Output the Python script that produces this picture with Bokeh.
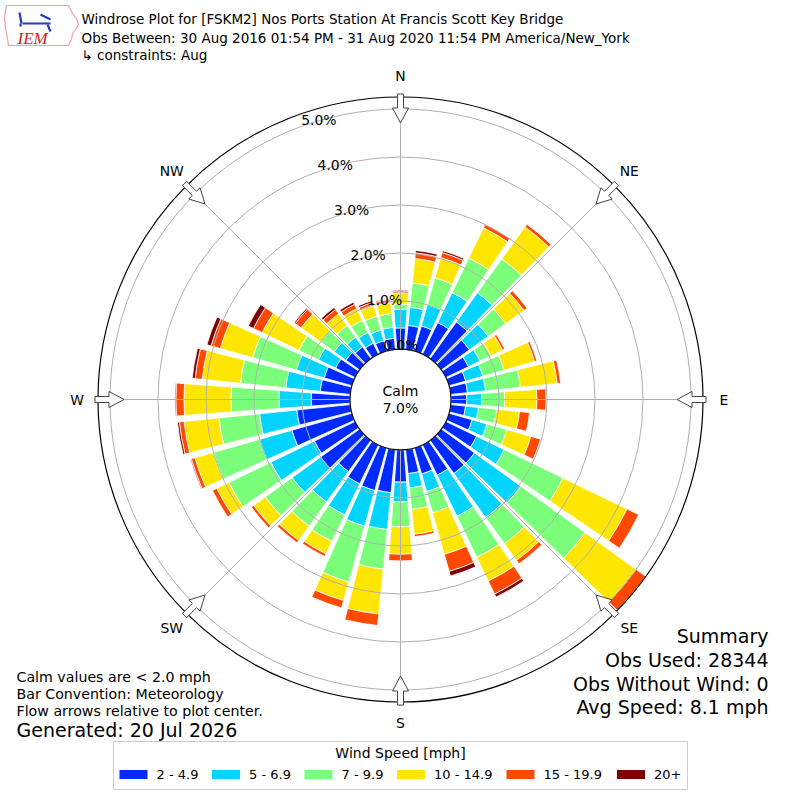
import numpy as np
from bokeh.plotting import figure
from bokeh.models import Range1d, ColumnDataSource
from bokeh.embed import file_html
from bokeh.resources import INLINE
from bokeh.core.properties import value

# ---------------- data ----------------
directions = list(range(0, 360, 10))
bin_labels = ["2 - 4.9", "5 - 6.9", "7 - 9.9", "10 - 14.9", "15 - 19.9", "20+"]
bin_colors = ["#002bff", "#00d4ff", "#7bff7b", "#ffe600", "#ff4900", "#7f0000"]

# percent of observations per direction for each speed bin
spd_2_5 = [0.44, 0.50, 0.54, 0.73, 0.94, 0.72, 0.52, 0.36, 0.35, 0.33, 0.31, 0.50,
           0.71, 0.85, 0.85, 0.70, 0.56, 0.50, 0.67, 0.90, 0.92, 0.90, 0.80, 1.00,
           0.94, 1.30, 1.12, 0.81, 0.63, 0.60, 0.45, 0.35, 0.30, 0.25, 0.22, 0.23]
spd_5_7 = [0.39, 0.38, 0.46, 0.69, 0.75, 0.48, 0.27, 0.37, 0.38, 0.31, 0.27, 0.32,
           0.64, 1.19, 1.13, 0.95, 0.38, 0.30, 0.41, 0.77, 0.77, 0.72, 0.78, 0.73,
           1.01, 0.70, 0.78, 0.67, 0.72, 0.60, 0.40, 0.30, 0.25, 0.25, 0.23, 0.23]
spd_7_10 = [0.11, 0.51, 0.58, 0.80, 0.87, 0.45, 0.25, 0.46, 0.73, 0.48, 0.38, 0.43,
            1.36, 1.65, 0.67, 0.95, 0.46, 0.45, 0.52, 0.83, 1.21, 0.61, 0.62, 0.69,
            0.97, 1.00, 0.85, 1.00, 0.95, 0.95, 0.45, 0.35, 0.30, 0.28, 0.30, 0.29]
spd_10_15 = [0.23, 0.51, 0.44, 0.70, 0.82, 0.47, 0.27, 0.66, 0.77, 0.67, 0.48, 0.52,
             1.48, 1.31, 0.43, 0.55, 0.90, 0.52, 0.57, 0.94, 0.40, 0.29, 0.37, 0.30,
             0.28, 0.40, 0.73, 0.98, 0.80, 0.70, 0.85, 0.50, 0.30, 0.27, 0.23, 0.23]
spd_15_20 = [0.04, 0.12, 0.11, 0.08, 0.07, 0.08, 0.05, 0.05, 0.07, 0.19, 0.21, 0.21,
             0.27, 0.25, 0.09, 0.30, 0.37, 0.05, 0.14, 0.24, 0.16, 0.06, 0.06, 0.06,
             0.10, 0.08, 0.10, 0.17, 0.15, 0.20, 0.20, 0.15, 0.11, 0.10, 0.07, 0.06]
spd_20_up = [0.02, 0.05, 0.04, 0.00, 0.00, 0.00, 0.00, 0.00, 0.00, 0.00, 0.00, 0.00,
             0.00, 0.00, 0.00, 0.07, 0.10, 0.00, 0.00, 0.00, 0.00, 0.00, 0.00, 0.00,
             0.00, 0.02, 0.04, 0.02, 0.06, 0.09, 0.12, 0.03, 0.05, 0.05, 0.04, 0.02]

calm_pct = 7.0
ring_ticks = [0, 1, 2, 3, 4, 5]
ring_labels = ["0.0%", "1.0%", "2.0%", "3.0%", "4.0%", "5.0%"]
compass_names = ["N", "NE", "E", "SE", "S", "SW", "W", "NW"]
compass_deg = [0, 45, 90, 135, 180, 225, 270, 315]

title_lines = ["Windrose Plot for [FSKM2] Nos Ports Station At Francis Scott Key Bridge",
               "Obs Between: 30 Aug 2016 01:54 PM - 31 Aug 2020 11:54 PM America/New_York",
               "\u21b3 constraints: Aug"]
notes_left = ["Calm values are < 2.0 mph", "Bar Convention: Meteorology",
              "Flow arrows relative to plot center."]
generated = "Generated: 20 Jul 2026"
summary = ["Summary", "Obs Used: 28344", "Obs Without Wind: 0", "Avg Speed: 8.1 mph"]
legend_title = "Wind Speed [mph]"

# ---------------- layout ----------------
FONT = value("DejaVu Sans")
W, H = 784, 792
CX, CY = 400.0, 401.0       # page (400, 399)
R0 = 50.5                   # radius of the 0 % ring (calm circle)
K = 48.0                    # pixels per percent
RMAX_PCT = 5.25
RMAX = R0 + K * RMAX_PCT
BAR_W = np.deg2rad(8.4)


def py(y):                  # page y -> data y
    return 800.0 - y


p = figure(width=W, height=H, x_range=Range1d(0, 784), y_range=Range1d(8, 800),
           output_backend="svg", toolbar_location=None, min_border=0,
           x_axis_type=None, y_axis_type=None)
p.grid.visible = False
p.outline_line_color = None
p.background_fill_color = "white"

# ---------------- bars ----------------
series = [spd_2_5, spd_5_7, spd_7_10, spd_10_15, spd_15_20, spd_20_up]
vals = np.array(series)                      # (6, 36)
cum = np.cumsum(vals, axis=0)
prev = np.vstack([np.zeros(len(directions)), cum[:-1]])
rows = dict(x=[], y=[], r0=[], r1=[], a0=[], a1=[], color=[])
for b in range(len(series)):
    for i, d in enumerate(directions):
        if vals[b, i] <= 0:
            continue
        th = np.deg2rad(90 - d)
        rows["x"].append(CX)
        rows["y"].append(CY)
        rows["r0"].append(R0 + K * prev[b, i])
        rows["r1"].append(R0 + K * cum[b, i])
        rows["a0"].append(th - BAR_W / 2)
        rows["a1"].append(th + BAR_W / 2)
        rows["color"].append(bin_colors[b])
p.annular_wedge(x="x", y="y", inner_radius="r0", outer_radius="r1",
                start_angle="a0", end_angle="a1", fill_color="color",
                line_color="white", line_width=0.8, source=ColumnDataSource(rows))

# ---------------- grid ----------------
for t in ring_ticks[1:]:
    p.arc(x=[CX], y=[CY], radius=[R0 + K * t], start_angle=0, end_angle=2 * np.pi,
          line_color="#b0b0b0", line_width=1)
gx, gy = [], []
for d in compass_deg:
    th = np.deg2rad(90 - d)
    gx.append([CX + R0 * np.cos(th), CX + RMAX * np.cos(th)])
    gy.append([CY + R0 * np.sin(th), CY + RMAX * np.sin(th)])
p.multi_line(xs=gx, ys=gy, line_color="#b0b0b0", line_width=1)

# calm circle
p.circle(x=[CX], y=[CY], radius=[R0], fill_color="white", line_color="black", line_width=1.2)
# outer circle
p.arc(x=[CX], y=[CY], radius=[RMAX], start_angle=0, end_angle=2 * np.pi,
      line_color="black", line_width=1.2)

# ---------------- arrows ----------------
ax_list, ay_list = [], []
shape = [(RMAX + 3, -3), (RMAX + 3, 3), (RMAX - 11, 3), (RMAX - 11, 8),
         (RMAX - 26, 0), (RMAX - 11, -8), (RMAX - 11, -3)]
for d in compass_deg:
    th = np.deg2rad(90 - d)
    ux, uy = np.cos(th), np.sin(th)
    vx, vy = -uy, ux
    ax_list.append([CX + r * ux + s * vx for r, s in shape])
    ay_list.append([CY + r * uy + s * vy for r, s in shape])
p.patches(xs=ax_list, ys=ay_list, fill_color="white", line_color="#444444", line_width=1)

# compass labels
RL = RMAX + 21
p.text(x=[CX + RL * np.sin(np.deg2rad(d)) for d in compass_deg],
       y=[CY + RL * np.cos(np.deg2rad(d)) for d in compass_deg],
       text=compass_names, text_font=FONT, text_font_size="13.9px",
       text_align="center", text_baseline="middle", text_color="black")

# ring labels
LA = np.deg2rad(20)
p.text(x=[CX - (R0 + K * t) * np.sin(LA) for t in ring_ticks],
       y=[CY + (R0 + K * t) * np.cos(LA) - 1 for t in ring_ticks],
       text=ring_labels, text_font=FONT, text_font_size="13.9px",
       text_align="left", text_baseline="bottom", text_color="black")

# calm text
p.text(x=[CX, CX], y=[CY + 9, CY - 8], text=["Calm", "%.1f%%" % calm_pct],
       text_font=FONT, text_font_size="14px", text_align="center",
       text_baseline="middle", text_color="black")

# ---------------- titles / notes ----------------
p.text(x=[81, 81, 81], y=[py(18), py(37), py(54)], text=title_lines, text_font=FONT,
       text_font_size="13.5px", text_align="left", text_baseline="middle", text_color="black")
p.text(x=[16, 16, 16], y=[py(676), py(693), py(710)], text=notes_left, text_font=FONT,
       text_font_size="14.2px", text_align="left", text_baseline="middle", text_color="black")
p.text(x=[16], y=[py(729)], text=[generated], text_font=FONT, text_font_size="19px",
       text_align="left", text_baseline="middle", text_color="black")
p.text(x=[768] * 4, y=[py(635), py(659), py(683), py(706)], text=summary, text_font=FONT,
       text_font_size="19px", text_align="right", text_baseline="middle", text_color="black")

# ---------------- logo ----------------
iowa_x = [6, 68, 70, 72, 76, 78, 75, 72, 71, 68, 8, 7, 5, 4, 5]
iowa_y = [5, 5, 9, 13, 18, 24, 29, 33, 39, 45, 45, 38, 28, 18, 10]
p.patch(x=iowa_x, y=[py(v) for v in iowa_y], fill_color="white", line_color="#eda0a0",
        line_width=1.2)
p.multi_line(xs=[[22, 50], [19, 21], [40, 50], [47, 50], [20, 20]],
             ys=[[py(23), py(23)], [py(12), py(23)], [py(14), py(19)], [py(24), py(31)],
                 [py(23), py(26)]],
             line_color="#1f3fbf", line_width=2.2)
p.text(x=[17], y=[py(38)], text=["IEM"], text_font=value("Liberation Serif"),
       text_font_style="italic", text_font_size="17px", text_color="#d42020",
       text_align="left", text_baseline="middle")

# ---------------- legend ----------------
p.rect(x=[400], y=[py(765)], width=[574], height=[48], fill_color="white",
       line_color="#cccccc", line_width=1)
p.text(x=[400], y=[py(752)], text=[legend_title], text_font=FONT, text_font_size="14px",
       text_align="center", text_baseline="middle", text_color="black")
patch_left = [119, 211.5, 304, 396.5, 506, 616.5]
p.rect(x=[v + 14 for v in patch_left], y=[py(774)] * 6, width=[28] * 6, height=[9] * 6,
       fill_color=bin_colors, line_color=None)
p.text(x=[v + 37 for v in patch_left], y=[py(774)] * 6, text=bin_labels, text_font=FONT,
       text_font_size="13px", text_align="left", text_baseline="middle", text_color="black")

open("out.html", "w").write(file_html(p, INLINE))
